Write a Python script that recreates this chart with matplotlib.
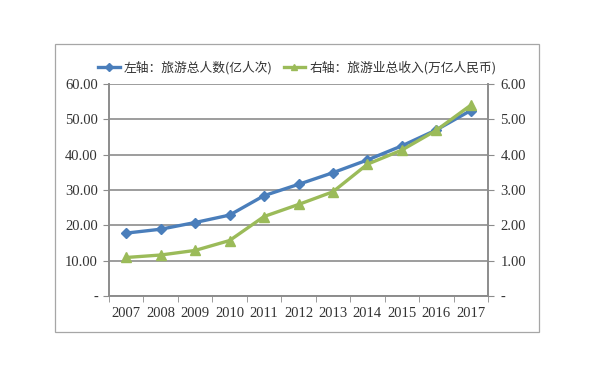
import matplotlib.pyplot as plt
from matplotlib.patches import Rectangle
from matplotlib.lines import Line2D

plt.rcParams['font.family'] = ['Liberation Serif', 'Noto Sans CJK SC', 'DejaVu Sans']
plt.rcParams['text.color'] = '#333333'
plt.rcParams['xtick.labelcolor'] = '#333333'
plt.rcParams['ytick.labelcolor'] = '#333333'

years = ["2007", "2008", "2009", "2010", "2011", "2012", "2013", "2014", "2015", "2016", "2017"]
visitors = [17.8, 18.9, 20.8, 22.9, 28.4, 31.6, 34.9, 38.5, 42.5, 47.0, 52.5]
revenue = [1.09, 1.16, 1.29, 1.57, 2.25, 2.59, 2.95, 3.73, 4.13, 4.69, 5.40]
left_ticks = ["-", "10.00", "20.00", "30.00", "40.00", "50.00", "60.00"]
right_ticks = ["-", "1.00", "2.00", "3.00", "4.00", "5.00", "6.00"]
label_left = "左轴：旅游总人数(亿人次)"
label_right = "右轴：旅游业总收入(万亿人民币)"

blue = "#4A7EBB"
green = "#9BBB59"
grid_c = "#8C8C8C"

fig = plt.figure(figsize=(5.95, 3.83), dpi=100)
W, H = 595, 383
ax = fig.add_axes([109 / W, 1 - 296 / H, (488 - 109) / W, (296 - 84) / H])
ax2 = ax.twinx()

# outer frame
fig.patches.append(Rectangle((55 / W, 1 - 332 / H), (539 - 55) / W, (332 - 44) / H,
                             transform=fig.transFigure, fill=False,
                             edgecolor="#A6A6A6", linewidth=0.9))

x = list(range(len(years)))
ax.plot(x, visitors, color=blue, linewidth=2.4, marker="D", markersize=5.5, zorder=3)
ax2.plot(x, revenue, color=green, linewidth=2.4, marker="^", markersize=6.5, zorder=3)

ax.set_xlim(-0.5, len(years) - 0.5)
ax.set_ylim(0, 60)
ax2.set_ylim(0, 6)
ax.set_yticks(range(0, 61, 10))
ax.set_yticklabels(left_ticks)
ax2.set_yticks(range(0, 7))
ax2.set_yticklabels(right_ticks)
ax.set_xticks(x)
ax.set_xticklabels(years)
ax.set_xticks([i - 0.5 for i in range(len(years) + 1)], minor=True)
ax.tick_params(axis="x", which="major", length=0, pad=8, labelsize=10.5)
ax.tick_params(axis="x", which="minor", length=4, color=grid_c, direction="out")
ax.tick_params(axis="y", length=4, color=grid_c, labelsize=10.5, pad=4)
ax2.tick_params(axis="y", length=4, color=grid_c, labelsize=10.5, pad=5)

ax.yaxis.grid(True, color=grid_c, linewidth=1.2)
ax.set_axisbelow(True)
for a in (ax, ax2):
    a.spines["top"].set_visible(False)
    for s in ("left", "right", "bottom"):
        a.spines[s].set_color(grid_c)
        a.spines[s].set_linewidth(1.2)

handles = [Line2D([], [], color=blue, linewidth=2.4, marker="D", markersize=4),
           Line2D([], [], color=green, linewidth=2.4, marker="^", markersize=5)]
fig.legend(handles, [label_left, label_right], loc="center",
           bbox_to_anchor=(297 / W, 1 - 68 / H), ncol=2, frameon=False,
           prop={"family": ["Noto Sans CJK SC", "DejaVu Sans"], "size": 9.2},
           handlelength=1.7, handletextpad=0.3, columnspacing=0.9)

fig.savefig("out.png", dpi=100)
